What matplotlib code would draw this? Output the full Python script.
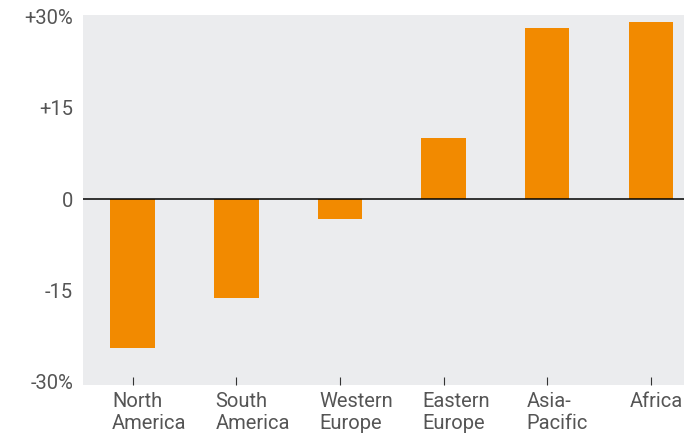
import matplotlib.pyplot as plt
import matplotlib.transforms as mtransforms

# regional change, percent
regions = ["North\nAmerica", "South\nAmerica", "Western\nEurope", "Eastern\nEurope", "Asia-\nPacific", "Africa"]
change = [-24.4, -16.2, -3.3, 10.0, 28.0, 29.0]
yticks = [-30, -15, 0, 15, 30]
ytick_labels = ["-30%", "-15", "0", "+15", "+30%"]

barColor = "#F28A00"
bgColor = "#EBECEE"
textColor = "#555555"
fontsize = 14.5
plt.rcParams['font.family'] = ['Roboto', 'DejaVu Sans']

fig = plt.figure(figsize=(6.84, 4.38), dpi=100)
ax = fig.add_axes([0.1213, 0.121, 0.8787, 0.8448])
ax.set_facecolor(bgColor)

xpos = list(range(len(regions)))
ax.bar(xpos, change, width=0.43, color=barColor, zorder=2)
ax.axhline(0, color="black", linewidth=1.1, zorder=3)

ax.set_xlim(-0.48, 5.32)
ax.set_ylim(-30.5, 30.2)

for side in ax.spines.values():
    side.set_visible(False)

ax.set_yticks(yticks)
ax.set_yticklabels(ytick_labels, color=textColor, fontsize=fontsize)
ax.tick_params(axis='y', length=0, pad=7)

ax.set_xticks(xpos)
ax.set_xticklabels([])
ax.tick_params(axis='x', direction='in', length=6, width=0.8, color="#333333")

# category labels sit under the bars, left aligned with each bar
trans = mtransforms.blended_transform_factory(ax.transData, ax.transAxes)
for x, name in zip(xpos, regions):
    ax.text(x - 0.2, -0.02, name, transform=trans, ha='left', va='top',
            fontsize=fontsize, color=textColor,
            linespacing=1.15, clip_on=False)

fig.savefig("out.png", dpi=100)
